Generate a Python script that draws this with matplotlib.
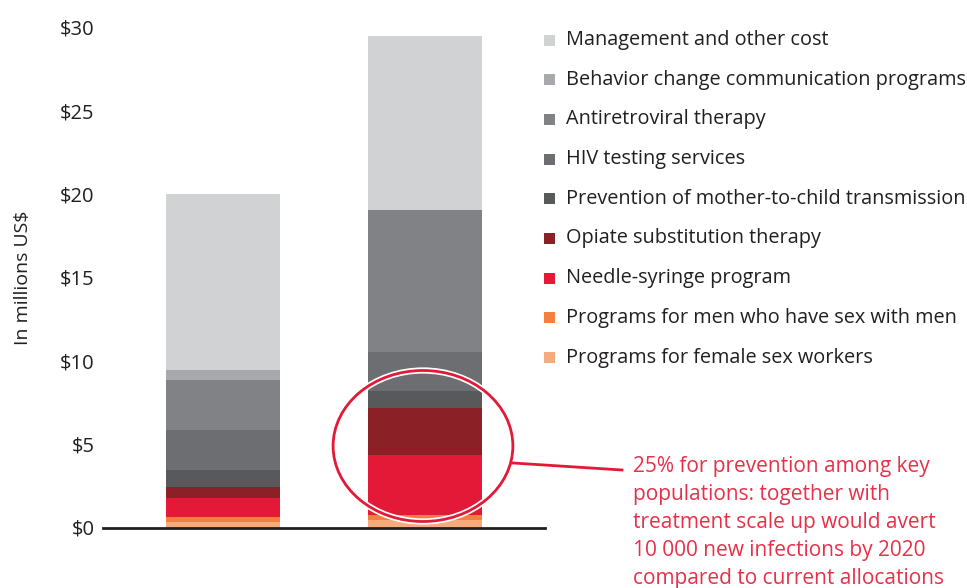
import matplotlib
matplotlib.use("Agg")
import matplotlib.pyplot as plt
from matplotlib.patches import Ellipse, Rectangle
from matplotlib.lines import Line2D
import numpy as np

plt.rcParams['font.family'] = ['Open Sans', 'DejaVu Sans']

bars = ["Current", "Optimized"]
categories = [
    "Programs for female sex workers",
    "Programs for men who have sex with men",
    "Needle-syringe program",
    "Opiate substitution therapy",
    "Prevention of mother-to-child transmission",
    "HIV testing services",
    "Antiretroviral therapy",
    "Behavior change communication programs",
    "Management and other cost",
]
values_current = [0.33, 0.30, 1.14, 0.66, 1.02, 2.40, 3.00, 0.60, 10.55]
values_optimized = [0.45, 0.32, 3.58, 2.82, 1.02, 2.34, 8.52, 0.0, 10.44]
colors = ["#f6ab7d", "#f47f3e", "#e31937", "#8b2026", "#58595b",
          "#6d6e71", "#808285", "#a7a9ac", "#d1d2d4"]
yticks = [0, 5, 10, 15, 20, 25, 30]
ytick_labels = ["$0", "$5", "$10", "$15", "$20", "$25", "$30"]
note = ("25% for prevention among key\npopulations: together with\n"
        "treatment scale up would avert\n10 000 new infections by 2020\n"
        "compared to current allocations")

W, H = 967, 588
fig = plt.figure(figsize=(W / 100, H / 100), dpi=100)
ax = fig.add_axes([103 / W, (H - 527.5) / H, (545 - 103) / W, 500 / H])

x = np.arange(len(bars))
bottom = np.zeros(len(bars))
for i, cat in enumerate(categories):
    vals = np.array([values_current[i], values_optimized[i]])
    ax.bar(x, vals, width=0.56, bottom=bottom, color=colors[i], edgecolor='none', zorder=2)
    bottom += vals

ax.set_xlim(-0.594, 1.594)
ax.set_ylim(0, 30)
ax.set_xticks([])
ax.set_yticks(yticks)
ax.set_yticklabels(ytick_labels, fontsize=14.5, color="#231f20")
ax.tick_params(axis='y', length=0, pad=6)
for s in ["top", "right", "left"]:
    ax.spines[s].set_visible(False)
ax.spines["bottom"].set_color("#231f20")
ax.spines["bottom"].set_linewidth(2)
ax.spines["bottom"].set_zorder(3)
ax.set_ylabel("In millions US$", fontsize=14, color="#231f20", labelpad=20)

# highlight ellipse
halo = Ellipse((0.99, 4.89), 0.89, 9.06, fill=False, edgecolor="white", linewidth=4.5,
               clip_on=False, zorder=4)
ax.add_patch(halo)
ell = Ellipse((0.99, 4.89), 0.89, 9.06, fill=False, edgecolor="#e31937", linewidth=2,
              clip_on=False, zorder=5)
ax.add_patch(ell)

red = "#e8304a"
fig.add_artist(Line2D([513 / W, 622 / W], [(H - 463) / H, (H - 470) / H],
                      color="#e31937", linewidth=2, transform=fig.transFigure))
fig.text(633 / W, (H - 456) / H, note, fontsize=15, color=red, ha='left', va='top',
         linespacing=1.44)

# legend
for j, i in enumerate(range(len(categories) - 1, -1, -1)):
    yc = 40 + 39.7 * j
    fig.add_artist(Rectangle((544 / W, (H - yc - 5.5) / H), 11 / W, 11 / H,
                             facecolor=colors[i], edgecolor='none',
                             transform=fig.transFigure))
    fig.text(566 / W, (H - yc) / H, categories[i], fontsize=14.3, color="#231f20",
             ha='left', va='center')

fig.savefig("out.png", dpi=100)
